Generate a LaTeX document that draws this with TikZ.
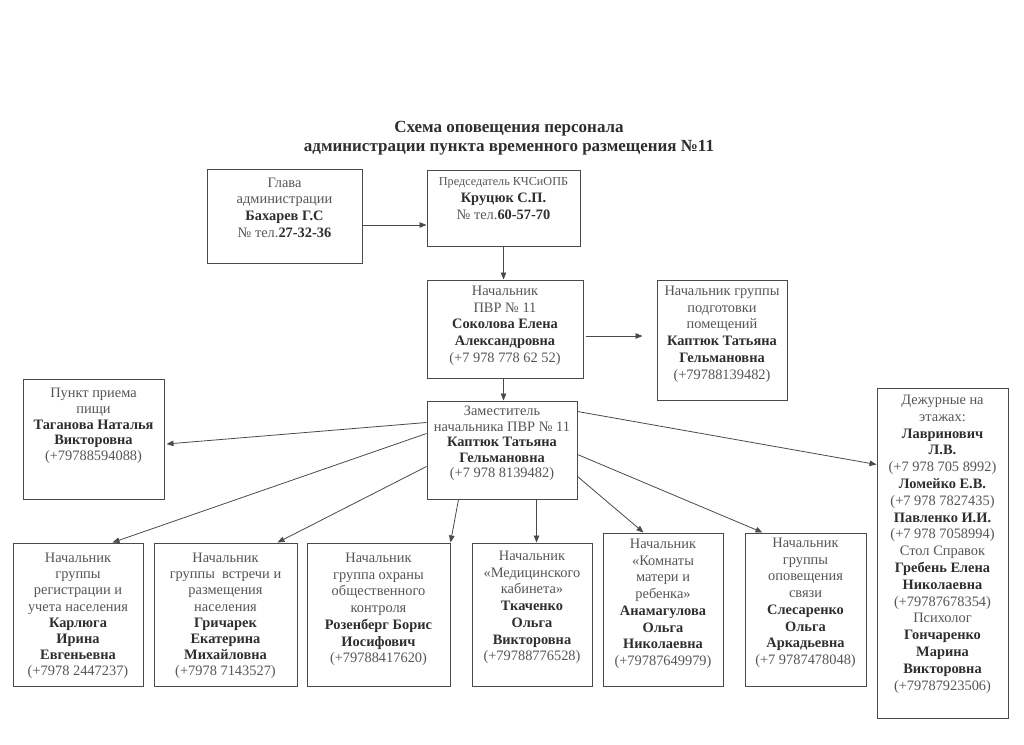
\documentclass[tikz,border=0pt]{standalone}
\usepackage{fontspec}
\setmainfont{Liberation Serif}
\usetikzlibrary{arrows.meta,calc}
\definecolor{txtc}{HTML}{555555}
\definecolor{bldc}{HTML}{2E2E2E}
\definecolor{linec}{HTML}{4A4A4A}
\newcommand{\bn}[1]{{\bfseries\color{bldc}#1}}
\begin{document}
\begin{tikzpicture}[x=1pt,y=-1pt,
  boxst/.style={draw=linec, line width=1pt, inner sep=0pt},
  txt/.style={anchor=north, align=center, inner sep=0pt, text=txtc, font=\fontsize{14.4}{16.7}\selectfont},
  arr/.style={draw=linec, line width=0.8pt, -{Triangle[length=7pt,width=5.5pt]}}]
\useasboundingbox (0,0) rectangle (1024,744);
\fill[white] (0,0) rectangle (1024,744);

% title
\node[font=\bfseries\fontsize{17}{19.5}\selectfont, text=bldc, align=center, inner sep=0pt] (title) at (509,138)
  {Схема оповещения персонала\\администрации пункта временного размещения №11};

% boxes
\node[boxst, minimum width=155, minimum height=94] (glava) at (284.5,216) {};
\node[boxst, minimum width=153, minimum height=76] (pred) at (503.5,208) {};
\node[boxst, minimum width=156, minimum height=98] (nach) at (505,329) {};
\node[boxst, minimum width=130, minimum height=120] (grp) at (722,340) {};
\node[boxst, minimum width=150, minimum height=98] (zam) at (502,450) {};
\node[boxst, minimum width=141, minimum height=120] (punkt) at (93.5,439) {};
\node[boxst, minimum width=131, minimum height=330] (dezh) at (942.5,553) {};
\node[boxst, minimum width=130, minimum height=143] (b1) at (78,614.5) {};
\node[boxst, minimum width=143, minimum height=143] (b2) at (225.5,614.5) {};
\node[boxst, minimum width=143, minimum height=143] (b3) at (378.5,614.5) {};
\node[boxst, minimum width=120, minimum height=143] (b4) at (532,614.5) {};
\node[boxst, minimum width=120, minimum height=153] (b5) at (663,609.5) {};
\node[boxst, minimum width=121, minimum height=153] (b6) at (805.5,609.5) {};

% texts
\node[txt, yshift=-9pt] (tglava) at (glava.north)
  {Глава\\администрации\\\bn{Бахарев Г.С}\\№ тел.\bn{27-32-36}};
\node[txt, yshift=-8pt] (tpred) at (pred.north)
  {{\fontsize{12.2}{14}\selectfont Председатель КЧСиОПБ}\\\bn{Круцюк С.П.}\\№ тел.\bn{60-57-70}};
\node[txt, yshift=-6.4pt] (tnach) at (nach.north)
  {Начальник\\ПВР № 11\\\bn{Соколова Елена}\\\bn{Александровна}\\(+7 978 778 62 52)};
\node[txt, yshift=-6.4pt] (tgrp) at (grp.north)
  {Начальник группы\\подготовки\\помещений\\\bn{Каптюк Татьяна}\\\bn{Гельмановна}\\(+79788139482)};
\node[txt, yshift=-5.4pt, font=\fontsize{14.4}{15.5}\selectfont] (tzam) at (zam.north)
  {Заместитель\\начальника ПВР № 11\\\bn{Каптюк Татьяна}\\\bn{Гельмановна}\\(+7 978 8139482)};
\node[txt, yshift=-9.4pt, font=\fontsize{14.4}{15.8}\selectfont] (tpunkt) at (punkt.north)
  {Пункт приема\\пищи\\\bn{Таганова Наталья}\\\bn{Викторовна}\\(+79788594088)};
\node[txt, yshift=-7.4pt, font=\fontsize{14.4}{16.8}\selectfont] (tdezh) at (dezh.north)
  {Дежурные на\\этажах:\\\bn{Лавринович}\\\bn{Л.В.}\\(+7 978 705 8992)\\\bn{Ломейко Е.В.}\\(+7 978 7827435)\\\bn{Павленко И.И.}\\(+7 978 7058994)\\Стол Справок\\\bn{Гребень Елена}\\\bn{Николаевна}\\(+79787678354)\\Психолог\\\bn{Гончаренко}\\\bn{Марина}\\\bn{Викторовна}\\(+79787923506)};
\node[txt, yshift=-10.4pt, font=\fontsize{14.4}{16.2}\selectfont] (tb1) at (b1.north)
  {Начальник\\группы\\регистрации и\\учета населения\\\bn{Карлюга}\\\bn{Ирина}\\\bn{Евгеньевна}\\(+7978 2447237)};
\node[txt, yshift=-10.4pt, font=\fontsize{14.4}{16.2}\selectfont] (tb2) at (b2.north)
  {Начальник\\группы\ \ встречи и\\размещения\\населения\\\bn{Гричарек}\\\bn{Екатерина}\\\bn{Михайловна}\\(+7978 7143527)};
\node[txt, yshift=-10.4pt] (tb3) at (b3.north)
  {Начальник\\группа охраны\\общественного\\контроля\\\bn{Розенберг Борис}\\\bn{Иосифович}\\(+79788417620)};
\node[txt, yshift=-8.4pt] (tb4) at (b4.north)
  {Начальник\\«Медицинского\\кабинета»\\\bn{Ткаченко}\\\bn{Ольга}\\\bn{Викторовна}\\(+79788776528)};
\node[txt, yshift=-6.4pt] (tb5) at (b5.north)
  {Начальник\\«Комнаты\\матери и\\ребенка»\\\bn{Анамагулова}\\\bn{Ольга}\\\bn{Николаевна}\\(+79787649979)};
\node[txt, yshift=-5.4pt] (tb6) at (b6.north)
  {Начальник\\группы\\оповещения\\связи\\\bn{Слесаренко}\\\bn{Ольга}\\\bn{Аркадьевна}\\(+7 9787478048)};

% connectors
\draw[arr] ($(glava.east)+(0,9)$) -- ($(pred.west)+(0,17)$);
\draw[arr] (pred.south) -- (pred.south |- nach.north);
\draw[arr] (pred.south |- nach.south) -- (pred.south |- zam.north);
\draw[arr] ($(nach.east)+(2,7)$) -- ($(grp.west)+(-14,-4)$);
\draw[arr] ($(zam.north west)+(0,22)$) -- ($(punkt.east)+(2,5)$);
\draw[arr] ($(zam.north west)+(0,33)$) -- ($(b1.north west)+(100,0)$);
\draw[arr] ($(zam.north west)+(0,66)$) -- ($(b2.north west)+(124,0)$);
\draw[arr] ($(zam.south west)+(32,0)$) -- (b3.north east);
\draw[arr] ($(zam.south west)+(110,0)$) -- ($(b4.north west)+(65,0)$);
\draw[arr] ($(zam.north east)+(0,76)$) -- ($(b5.north west)+(41,0)$);
\draw[arr] ($(zam.north east)+(0,54)$) -- ($(b6.north west)+(18,0)$);
\draw[arr] ($(zam.north east)+(0,11)$) -- ($(dezh.north west)+(0,77)$);
\end{tikzpicture}
\end{document}
